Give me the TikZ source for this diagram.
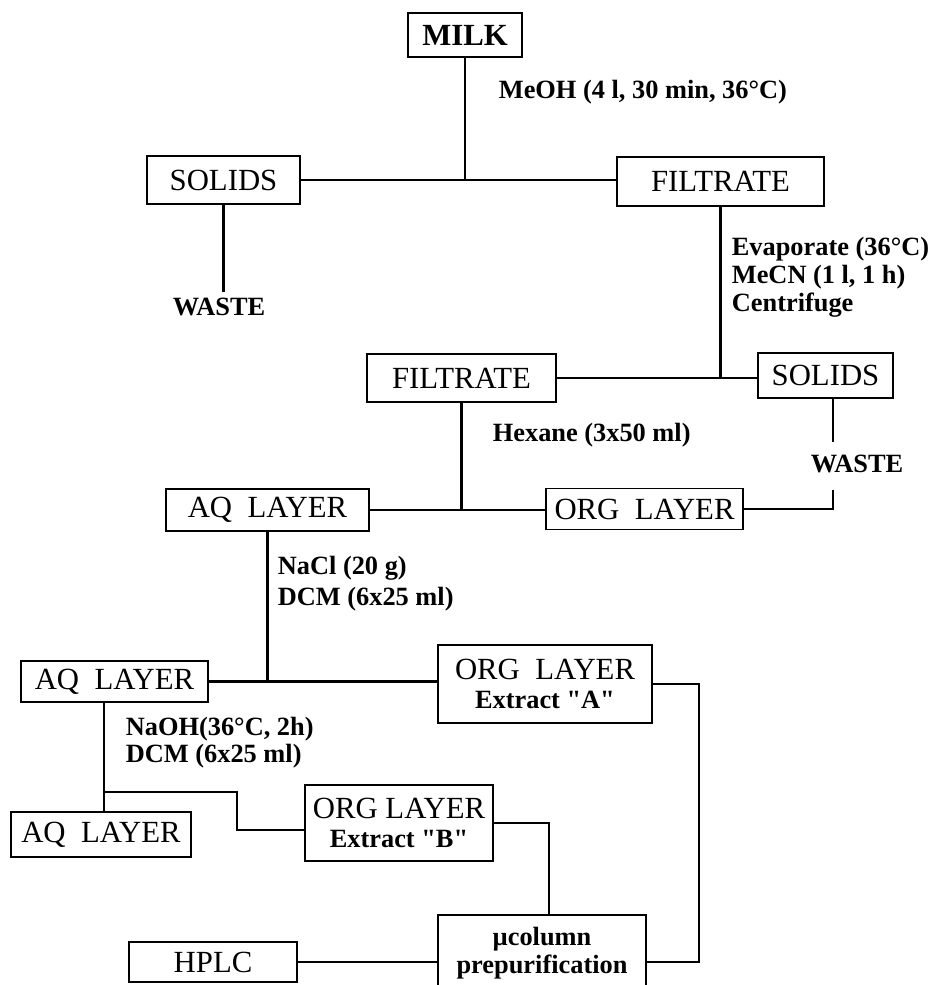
\documentclass[tikz,border=0pt]{standalone}
\usepackage{fontspec}
\newfontfamily\chartfont{Liberation Serif}
\usetikzlibrary{positioning, calc}
\newcommand{\boxfont}{\fontsize{17.5}{20}\selectfont\chartfont}
\newcommand{\lblfont}{\fontsize{15}{17}\selectfont\chartfont\bfseries}

\begin{document}
\begin{tikzpicture}[
  stage/.style={draw, line width=1.1pt, font=\boxfont, inner sep=0pt, align=center},
  reagent/.style={font=\lblfont, align=left, anchor=west, inner sep=2pt},
  link/.style={line width=1.5pt}
]

% Page
\useasboundingbox (0,0) rectangle (18.6,19.7);
\fill[white] (0,0) rectangle (18.6,19.7);

% Extraction with methanol
\node[stage, minimum width=2.28cm, minimum height=0.88cm, font=\boxfont\bfseries] (milk) at (9.30,19.00) {MILK};
\node[stage, minimum width=3.06cm, minimum height=0.96cm] (solids1) at (4.47,16.10) {SOLIDS};
\node[stage, minimum width=4.14cm, minimum height=0.98cm] (filtrate1) at (14.41,16.07) {FILTRATE};
\node[font=\lblfont] (waste1) at (4.38,13.56) {WASTE};
\node[reagent] (meoh) at (9.90,17.86) {MeOH (4 l, 30 min, 36\textdegree C)};

\draw[link] (solids1) -- (solids1 -| filtrate1.west);
\draw[link] (milk) -- (milk |- solids1);
\draw[link] (solids1) -- (solids1 |- waste1.north);

% Acetonitrile step
\node[reagent] (evap) at (14.56,14.16) {Evaporate (36\textdegree C)\\[-1pt]MeCN (1 l, 1 h)\\[-1pt]Centrifuge};
\node[stage, minimum width=3.78cm, minimum height=0.96cm] (filtrate2) at (9.23,12.14) {FILTRATE};
\node[stage, minimum width=2.70cm, minimum height=0.90cm] (solids2) at (16.51,12.19) {SOLIDS};
\node[font=\lblfont] (waste2) at (17.14,10.42) {WASTE};
\coordinate (w2top) at (16.66,10.86);
\coordinate (w2bot) at (16.66,9.90);

\draw[link] (filtrate2) -- (filtrate2 -| solids2.west);
\draw[link] (filtrate1) -- (filtrate1 |- filtrate2);
\draw[link] (solids2.south -| w2top) -- (w2top);

% Hexane wash
\node[reagent] (hexane) at (9.78,11.00) {Hexane (3x50 ml)};
\node[stage, minimum width=4.06cm, minimum height=0.84cm] (aq1) at (5.35,9.50) {AQ\ \ LAYER};
\node[stage, minimum width=3.94cm, minimum height=0.82cm] (org1) at (12.89,9.52) {ORG\ \ LAYER};

\draw[link] (aq1) -- (aq1 -| org1.west);
\draw[link] (filtrate2) -- (filtrate2 |- aq1);
\draw[link] (w2bot) |- (org1.east);

% Extract A
\node[reagent] (nacl) at (5.48,8.03) {NaCl (20 g)\\[1pt]DCM (6x25 ml)};
\node[stage, minimum width=3.74cm, minimum height=0.82cm] (aq2) at (2.29,6.07) {AQ\ \ LAYER};
\node[stage, minimum width=4.28cm, minimum height=1.56cm] (orgA) at (10.90,6.02) {ORG\ \ LAYER\\[-3pt]{\lblfont Extract "A"}};

\draw[link] (aq2) -- (aq2 -| orgA.west);
\draw[link] (aq1) -- (aq1 |- aq2);

% Extract B
\node[reagent] (naoh) at (2.44,4.85) {NaOH(36\textdegree C, 2h)\\[-2pt]DCM (6x25 ml)};
\node[stage, minimum width=3.60cm, minimum height=0.90cm] (aq3) at (2.02,3.01) {AQ\ \ LAYER};
\node[stage, minimum width=3.76cm, minimum height=1.52cm] (orgB) at (7.98,3.24) {ORG LAYER\\[-3pt]{\lblfont Extract "B"}};
\coordinate (br) at (2.08,3.86);
\coordinate (bend) at (4.74,3.10);

\draw[link] (aq2.south -| br) -- (aq3.north -| br);
\draw[link] (br) -| (bend) -- (bend -| orgB.west);

% Clean-up and analysis
\node[stage, minimum width=4.16cm, minimum height=1.54cm, font=\lblfont] (mu) at (10.84,0.63) {µcolumn\\[-1pt]prepurification};
\node[stage, minimum width=3.36cm, minimum height=0.80cm] (hplc) at (4.26,0.46) {HPLC};
\coordinate (rt) at (13.98,0.46);

\draw[link] (hplc) -- (hplc -| mu.west);
\draw[link] (orgB.east) -| ([xshift=0.14cm]mu.north);
\draw[link] (orgA.east) -| (rt) -- (rt -| mu.east);

\end{tikzpicture}
\end{document}
